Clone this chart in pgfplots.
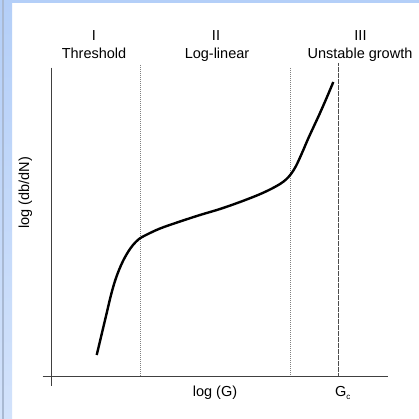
\documentclass[border=0pt]{standalone}
\usepackage{fontspec}
\setmainfont{Liberation Sans}
\usepackage{pgfplots}
\pgfplotsset{compat=1.18}
\definecolor{frameblue}{HTML}{B4CFF8}
\definecolor{frameblue2}{HTML}{D2E2FB}
\definecolor{stripe}{HTML}{A9B9D2}
\definecolor{axgray}{HTML}{404040}
\begin{document}
\begin{tikzpicture}
\begin{axis}[width=419pt,height=419pt,scale only axis,
  xmin=0,xmax=419,ymin=0,ymax=419,y dir=reverse,hide axis,clip=false]
% background and frame
\fill[white] (axis cs:0,0) rectangle (axis cs:419,419);
\fill[frameblue] (axis cs:0,0) rectangle (axis cs:419,3);
\shade[top color=frameblue,bottom color=frameblue2] (axis cs:0,0) rectangle (axis cs:12,419);
\fill[stripe] (axis cs:2,0) rectangle (axis cs:4,419);
% axes
\draw[axgray,line width=1.1pt] (axis cs:51.7,67.7) -- (axis cs:51.7,386);
\draw[axgray,line width=1.1pt] (axis cs:42.7,376.3) -- (axis cs:387.7,376.3);
% region boundaries
\addplot[gray,line width=0.6pt,dash pattern=on 1pt off 1pt] coordinates {(140.3,65) (140.3,376)};
\addplot[gray,line width=0.6pt,dash pattern=on 1pt off 1pt] coordinates {(290.3,68) (290.3,376)};
\addplot[black!70,line width=1.1pt,dash pattern=on 0.6pt off 0.6pt] coordinates {(338.7,63) (338.7,376)};
% curve
\addplot[black,line width=2.4pt,smooth,tension=0.55] coordinates {
(96.7,355) (101,337) (106,316) (111,295) (115,281) (119,270) (123,261)
(128,252) (133,245) (139,239) (146,235) (160,228.5) (180,221.5) (200,215)
(220,209) (240,202) (258,195) (270,189.5) (280,184) (286,179.5) (291,174)
(296,166) (302,153) (308,139) (314,126) (320,113) (327,97) (333.3,82)};
% labels
\begin{scope}[every node/.style={font=\fontsize{14.5}{17}\selectfont}]
\node[anchor=base] at (axis cs:94,41) {I};
\node[anchor=base] at (axis cs:94,59) {Threshold};
\node[anchor=base] at (axis cs:216,41) {II};
\node[anchor=base] at (axis cs:217,59) {Log-linear};
\node[anchor=base] at (axis cs:360.5,41) {III};
\node[anchor=base] at (axis cs:360,59) {Unstable growth};
\node[anchor=base] at (axis cs:215,396.5) {log (G)};
\node[anchor=base west,inner sep=0pt] at (axis cs:335,396.7) {G\raisebox{-3pt}{\fontsize{8}{9}\selectfont c}};
\node[rotate=90,anchor=center] at (axis cs:25.5,193) {log (db/dN)};
\end{scope}
\end{axis}
\end{tikzpicture}
\end{document}
